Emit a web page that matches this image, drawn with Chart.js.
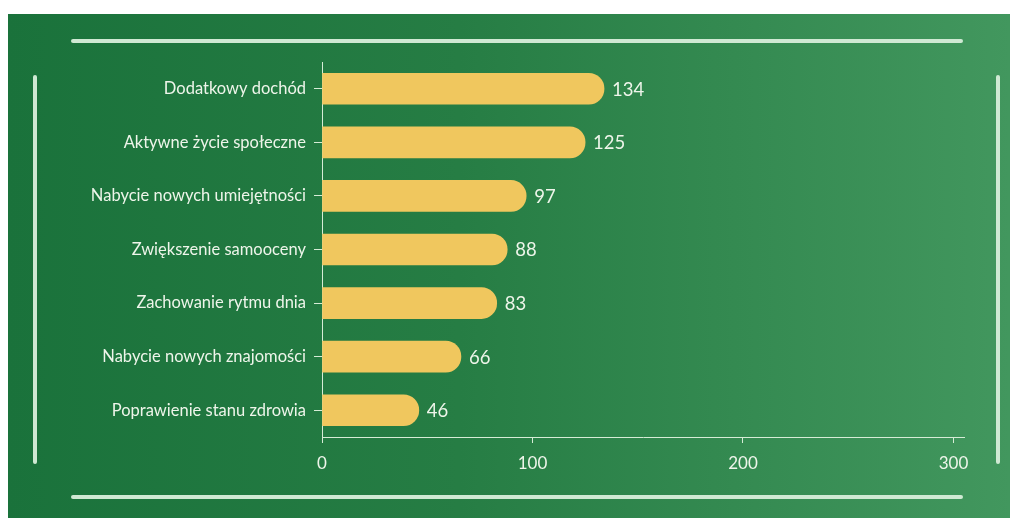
<!DOCTYPE html>
<html>
<head>
<meta charset="utf-8">
<script src="https://cdn.jsdelivr.net/npm/chart.js@4"></script>
<style>
  html, body { margin: 0; padding: 0; background: #fff; }
  #wrap { position: relative; width: 1010px; height: 518px; overflow: hidden; }
  #bg { position: absolute; left: 8px; top: 14px; right: 0; bottom: 0;
        background: linear-gradient(to right, #1a723b 0%, #267d44 45%, #42975e 100%); }
  .deco { position: absolute; background: #cfe9d3; border-radius: 2px; }
  #chartBox { position: absolute; left: 0; top: 0; width: 1010px; height: 518px; }
</style>
</head>
<body>
<div id="wrap">
  <div id="bg"></div>
  <div class="deco" style="left:71px; top:39px; width:892px; height:4px;"></div>
  <div class="deco" style="left:71px; top:495px; width:892px; height:4px;"></div>
  <div class="deco" style="left:33px; top:75px; width:4px; height:389px;"></div>
  <div class="deco" style="left:996px; top:75px; width:4px; height:389px;"></div>
  <div id="chartBox"><canvas id="benefitChart" width="1010" height="518"></canvas></div>
</div>
<script>
// data
var categories = [
  'Dodatkowy dochód',
  'Aktywne życie społeczne',
  'Nabycie nowych umiejętności',
  'Zwiększenie samooceny',
  'Zachowanie rytmu dnia',
  'Nabycie nowych znajomości',
  'Poprawienie stanu zdrowia'
];
var counts = [134, 125, 97, 88, 83, 66, 46];
var xTicks = [0, 100, 200, 300];

var textColor = '#eef5ea';
var axisColor = '#d6ecd6';

// value labels at the end of each bar
var valueLabels = {
  id: 'valueLabels',
  afterDatasetsDraw: function (chart) {
    var ctx = chart.ctx;
    var meta = chart.getDatasetMeta(0);
    ctx.save();
    ctx.font = '18.5px Lato';
    ctx.fillStyle = textColor;
    ctx.textBaseline = 'middle';
    ctx.textAlign = 'left';
    meta.data.forEach(function (bar, i) {
      ctx.fillText(String(counts[i]), bar.x + 8, bar.y + 1);
    });
    ctx.restore();
  }
};

document.addEventListener("DOMContentLoaded", function () {
  var ctx = document.getElementById('benefitChart').getContext('2d');

  var chart = new Chart(ctx, {
    type: 'bar',
    data: {
      labels: categories,
      datasets: [{
        data: counts,
        backgroundColor: '#f0c75e',
        borderRadius: 16,
        barThickness: 31
      }]
    },
    plugins: [valueLabels],
    options: {
      indexAxis: 'y',
      responsive: false,
      animation: false,
      layout: { padding: { top: 62, right: 46, left: 0, bottom: 0 } },
      plugins: {
        legend: { display: false },
        tooltip: { enabled: false }
      },
      scales: {
        x: {
          min: 0,
          max: 305,
          afterBuildTicks: function (axis) {
            axis.ticks = xTicks.map(function (v) { return { value: v }; });
          },
          afterFit: function (axis) { axis.height = 81; },
          border: { color: axisColor, width: 1 },
          grid: { drawOnChartArea: false, color: axisColor, tickLength: 6 },
          ticks: { color: textColor, font: { family: 'Lato', size: 17 }, padding: 10, maxRotation: 0 }
        },
        y: {
          afterFit: function (axis) { axis.width = 322; },
          border: { color: axisColor, width: 1 },
          grid: { drawOnChartArea: false, color: axisColor, tickLength: 8, offset: false },
          ticks: { color: textColor, font: { family: 'Lato', size: 16.5 }, padding: 8 }
        }
      }
    }
  });
});
</script>
</body>
</html>
